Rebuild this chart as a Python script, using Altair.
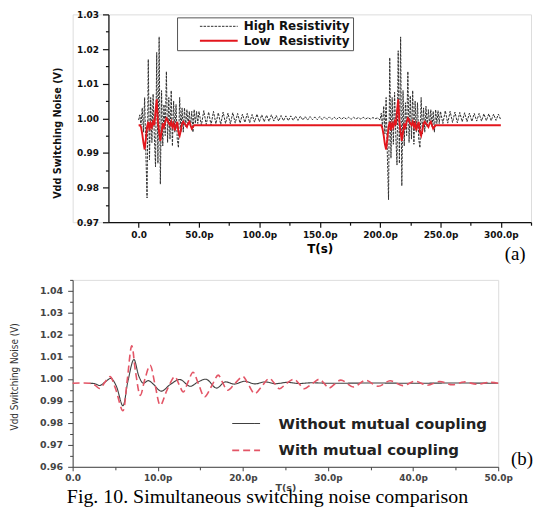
import altair as alt
import pandas as pd

# ---------------- panel (a) data ----------------
HR = "High Resistivity"
LR = "Low\u00a0\u00a0Resistivity"

# High resistivity, t = 0..50 p (1 p steps)
hr_b1 = [0.9995, 1.0010, 0.9980, 1.0030, 0.9960, 1.0060, 0.9900, 0.9770, 1.0170, 0.9880,
         1.0060, 0.9930, 1.0070, 0.9950, 0.9860, 1.0190, 0.9870, 1.0235, 0.9810, 1.0080,
         0.9920, 1.0040, 0.9950, 1.0135, 0.9930, 1.0060, 0.9940, 1.0080, 0.9920, 1.0050,
         0.9960, 1.0040, 0.9940, 0.9915, 1.0060, 0.9960, 1.0030, 0.9960, 1.0030, 0.9975,
         1.0025, 0.9980, 1.0020, 0.9975, 1.0020, 0.9960, 1.0025, 0.9985, 1.0020, 0.9985,
         1.0020]
# t = 52..198 p (2 p steps)
hr_q1 = [0.9980, 1.0022, 0.9982, 1.0018, 0.9980, 1.0020, 0.9984, 1.0016, 0.9982, 1.0018,
         0.9985, 1.0015, 0.9984, 1.0016, 0.9986,
         1.0014, 0.9986, 1.0012, 0.9988, 1.0014, 0.9987, 1.0011, 0.9989, 1.0012, 0.9990,
         1.0010, 0.9990, 1.0009, 0.9991, 1.0010, 0.9992, 1.0008, 0.9992, 1.0008, 0.9993,
         1.0007, 0.9993, 1.0007, 0.9994, 1.0006, 0.9994, 1.0006, 0.9995, 1.0005, 0.9995,
         1.0005, 0.9996, 1.0004, 0.9996, 1.0005, 0.9996, 1.0004, 0.9997, 1.0004, 0.9997,
         1.0003, 0.9997, 1.0004, 0.9997, 1.0003, 0.9998, 1.0003, 0.9997, 1.0003, 0.9998,
         1.0002, 0.9998, 1.0003, 0.9998, 1.0002, 0.9998, 1.0002, 0.9999, 1.0001]
# t = 200..250 p (1 p steps)
hr_b2 = [0.9995, 1.0015, 0.9975, 1.0035, 0.9955, 1.0060, 0.9895, 0.9765, 1.0175, 0.9885,
         1.0060, 0.9925, 1.0075, 0.9950, 0.9865, 1.0195, 0.9870, 1.0235, 0.9805, 1.0080,
         0.9920, 1.0045, 0.9950, 1.0135, 0.9930, 1.0065, 0.9940, 1.0080, 0.9925, 1.0050,
         0.9960, 1.0045, 0.9940, 0.9915, 1.0060, 0.9955, 1.0030, 0.9960, 1.0035, 0.9975,
         1.0025, 0.9980, 1.0025, 0.9975, 1.0020, 0.9960, 1.0025, 0.9985, 1.0022, 0.9985,
         1.0020]
# t = 252..300 p (2 p steps)
hr_q2 = [0.9985, 1.0022, 0.9986, 1.0020, 0.9988, 1.0018, 0.9987, 1.0017, 0.9990, 1.0016,
         0.9990, 1.0015, 0.9991, 1.0014, 0.9992, 1.0014, 0.9992, 1.0013, 0.9993, 1.0013,
         0.9993, 1.0012, 0.9994, 1.0012, 0.9995]

# Low resistivity, t = 0..46 p and 200..246 p (1 p steps), then flat to 300 p
lr_b1 = [0.9980, 0.9980, 0.9975, 0.9955, 0.9930, 0.9910, 0.9940, 0.9975, 0.9990, 0.9965,
         0.9985, 0.9975, 0.9990, 0.9980, 1.0020, 1.0055, 0.9990, 0.9960, 0.9935, 0.9960,
         0.9985, 0.9975, 0.9990, 1.0000, 0.9995, 0.9985, 0.9980, 0.9990, 0.9975, 0.9985,
         0.9965, 0.9980, 0.9990, 0.9960, 0.9950, 0.9965, 0.9985, 0.9990, 0.9985, 0.9980,
         0.9975, 0.9985, 0.9990, 0.9980, 0.9970, 0.9975, 0.9980]
lr_b2 = [0.9980, 0.9980, 0.9970, 0.9950, 0.9925, 0.9910, 0.9940, 0.9975, 0.9990, 0.9965,
         0.9985, 0.9975, 0.9990, 0.9980, 1.0020, 1.0055, 0.9990, 0.9960, 0.9935, 0.9960,
         0.9985, 0.9975, 0.9990, 1.0000, 0.9995, 0.9985, 0.9980, 0.9990, 0.9975, 0.9985,
         0.9965, 0.9980, 0.9990, 0.9960, 0.9950, 0.9965, 0.9985, 0.9990, 0.9985, 0.9980,
         0.9975, 0.9985, 0.9990, 0.9980, 0.9970, 0.9975, 0.9980]
lr_end = [0.9980]

hr_t = list(range(0, 51)) + list(range(52, 200, 2)) + list(range(200, 251)) + list(range(252, 301, 2))
hr_v = hr_b1 + hr_q1 + hr_b2 + hr_q2
lr_t = list(range(0, 47)) + list(range(200, 247)) + [300]
lr_v = lr_b1 + lr_b2 + lr_end

# ---------------- panel (b) data ----------------
NM = "Without mutual coupling"
WM = "With mutual coupling"
nm_t = [2.0, 2.6, 3.2, 3.8, 4.5, 5.1, 5.9, 6.5, 7.2, 7.8, 8.3, 8.9, 9.5, 10.4, 11.5, 12.6,
        13.8, 14.7, 15.7, 16.9, 17.9, 19.0, 20.2, 21.4, 22.6, 23.8, 25.2, 26.6, 28.0, 30.0,
        35.0, 40.0, 45.0, 50.0]
nm_v = [0.9980, 0.9978, 0.9970, 0.9985, 1.0002, 0.9970, 0.9878, 0.9990, 1.0088, 1.0010,
        0.9980, 0.9992, 0.9975, 0.9944, 0.9975, 0.9997, 0.9966, 0.9985, 0.9998, 0.9958,
        0.9986, 0.9976, 0.9989, 0.9977, 0.9986, 0.9978, 0.9984, 0.9979, 0.9982, 0.9980,
        0.9981, 0.9980, 0.9981, 0.9980]
wm_t = [0, 2.0, 2.6, 3.2, 3.8, 4.4, 5.0, 5.9, 6.4, 6.95, 7.4, 7.95, 8.5, 9.1, 9.7, 10.3,
        11.1, 12.0, 12.5, 13.0, 13.6, 14.15, 14.8, 15.5, 16.3, 17.1, 17.6, 18.2, 19.1, 20.0,
        20.7, 21.4, 22.2, 23.1, 23.7, 24.3, 25.1, 26.0, 26.6, 27.2, 28.1, 29.0, 29.6, 30.1,
        31.5, 33.0, 34.4, 35.9, 37.3, 38.8, 40.2, 41.7, 43.1, 44.6, 46.0, 47.5, 48.9, 50.0]
wm_v = [0.9980, 0.9980, 0.9972, 0.9956, 0.9985, 1.0010, 0.9960, 0.9855, 0.9990, 1.0150,
        1.0030, 0.9925, 1.0000, 1.0062, 0.9970, 0.9880, 0.9950, 1.0010, 0.9975, 0.9940,
        0.9990, 1.0030, 0.9975, 0.9918, 0.9965, 1.0017, 0.9985, 0.9948, 0.9980, 1.0010,
        0.9970, 0.9933, 0.9965, 1.0002, 0.9980, 0.9955, 0.9978, 0.9998, 0.9978, 0.9955,
        0.9977, 0.9998, 0.9977, 0.9958, 0.9994, 0.9963, 0.9993, 0.9966, 0.9991, 0.9969,
        0.9989, 0.9971, 0.9988, 0.9973, 0.9986, 0.9975, 0.9984, 0.9980]

# tick values
top_x_ticks = list(range(0, 326, 25))
top_y_ticks = [round(0.97 + 0.005 * i, 3) for i in range(13)]
bot_x_ticks = list(range(0, 51, 5))
bot_y_ticks = [round(0.96 + 0.005 * i, 3) for i in range(18)]

caption_text = ["Fig. 10. Simultaneous switching noise comparison"]
tag_a = ["(a)"]
tag_b = ["(b)"]

# ---------------- build tables ----------------
top_df = pd.DataFrame({
    "t": hr_t + lr_t,
    "v": hr_v + lr_v,
    "series": [HR] * len(hr_t) + [LR] * len(lr_t),
})
bot_df = pd.DataFrame({
    "t": nm_t + wm_t,
    "v": nm_v + wm_v,
    "series": [NM] * len(nm_t) + [WM] * len(wm_t),
})

BOLD = "DejaVu Sans"
NARROW = "Liberation Sans Narrow, DejaVu Sans Condensed, Liberation Sans"
SERIF = "Liberation Serif, Times New Roman, serif"

major_x_top = "datum.value % 50 === 0"
minor_y = "abs(datum.value*100 - round(datum.value*100)) < 0.01"

top_x_axis = alt.Axis(
    values=top_x_ticks,
    labelExpr="datum.value % 50 === 0 ? (datum.value === 0 ? '0.0' : format(datum.value, '.1f') + 'p') : ''",
    tickSize={"condition": {"test": major_x_top, "value": 5}, "value": 3},
    title="T(s)", titleFont=BOLD, titleFontWeight="bold", titleFontSize=12, titlePadding=4,
    labelFont=BOLD, labelFontWeight="bold", labelFontSize=9, labelColor="#111", labelPadding=3,
    labelFlush=False, labelOverlap=False, grid=False,
    domainColor="#111", domainWidth=1.3, tickColor="#111", tickWidth=1.2,
)
top_y_axis = alt.Axis(
    values=top_y_ticks,
    labelExpr=minor_y + " ? format(datum.value, '.2f') : ''",
    tickSize={"condition": {"test": minor_y, "value": 6}, "value": 3},
    offset=-36,
    title="Vdd Switching Noise (V)", titleFont=NARROW, titleFontWeight="bold", titleFontSize=10.8,
    titleColor="#111", titleX=-51, titleY=119, titleBaseline="middle",
    labelFont=BOLD, labelFontWeight="bold", labelFontSize=9, labelColor="#111", labelPadding=4,
    labelOverlap=False, grid=False,
    domainColor="#111", domainWidth=1.3, tickColor="#111", tickWidth=1.2,
)

top_leg = alt.Legend(
    title=None, orient="none", legendX=105, legendY=3,
    symbolType="M2.8,0H10.4", symbolSize=100, symbolStrokeWidth=1.6,
    labelFont=BOLD, labelFontWeight="bold", labelFontSize=12, labelColor="#111",
    labelOffset=52, padding=3, rowPadding=2.5, strokeColor="#555", fillColor="white",
    labelLimit=0,
)

top_lines = alt.Chart(top_df).mark_line().encode(
    x=alt.X("t:Q", scale=alt.Scale(domain=[-25, 325], range=[36, 461], nice=False, zero=False), axis=top_x_axis),
    y=alt.Y("v:Q", scale=alt.Scale(domain=[0.97, 1.03], nice=False, zero=False), axis=top_y_axis),
    color=alt.Color("series:N", scale=alt.Scale(domain=[HR, LR], range=["#2e2e2e", "#e3161d"]), legend=top_leg),
    strokeDash=alt.StrokeDash("series:N", scale=alt.Scale(domain=[HR, LR], range=[[2.5, 1.2], [1, 0]]), legend=top_leg),
    strokeWidth=alt.StrokeWidth("series:N", scale=alt.Scale(domain=[HR, LR], range=[1.0, 1.9]), legend=None),
)

tag_a_chart = alt.Chart(pd.DataFrame({"t": tag_a})).mark_text(
    font=SERIF, fontSize=19, color="black", align="center", baseline="middle"
).encode(text="t:N", x=alt.value(445), y=alt.value(241))

top = alt.layer(top_lines, tag_a_chart).properties(width=461, height=209)

# ---------------- panel (b) ----------------
bot_x_axis = alt.Axis(
    values=bot_x_ticks,
    labelExpr="datum.value % 10 === 0 ? (datum.value === 0 ? '0.0' : format(datum.value, '.1f') + 'p') : ''",
    tickSize={"condition": {"test": "datum.value % 10 === 0", "value": 4}, "value": 3},
    title="T(s)", titleFont=BOLD, titleFontWeight="bold", titleFontSize=9.5, titleColor="#444",
    titlePadding=0,
    labelFont=BOLD, labelFontWeight="bold", labelFontSize=9, labelColor="#444", labelPadding=3,
    labelFlush=False, labelOverlap=False, grid=False,
    domainColor="#444", domainWidth=1, tickColor="#444",
)
bot_y_axis = alt.Axis(
    values=bot_y_ticks,
    labelExpr=minor_y + " ? format(datum.value, '.2f') : ''",
    tickSize={"condition": {"test": minor_y, "value": 5}, "value": 3},
    title="Vdd Switching Noise (V)", titleFont=NARROW, titleFontWeight="normal", titleFontSize=10,
    titleColor="#333", titleX=-58, titleY=97, titleBaseline="middle",
    labelFont=BOLD, labelFontWeight="bold", labelFontSize=9.5, labelColor="#444", labelPadding=5,
    labelOverlap=False, grid=False,
    domainColor="#444", domainWidth=1, tickColor="#444",
)
bot_leg = alt.Legend(
    title=None, orient="none", legendX=153, legendY=137,
    symbolType="M0,0H5.6", symbolSize=100, symbolStrokeWidth=1.5,
    labelFont=BOLD, labelFontWeight="bold", labelFontSize=15, labelColor="#222",
    labelOffset=39, padding=0, rowPadding=11, labelLimit=0,
)

bot_lines = alt.Chart(bot_df).mark_line(interpolate="catmull-rom").encode(
    x=alt.X("t:Q", scale=alt.Scale(domain=[0, 50], nice=False, zero=False), axis=bot_x_axis),
    y=alt.Y("v:Q", scale=alt.Scale(domain=[0.96, 1.045], nice=False, zero=False), axis=bot_y_axis),
    color=alt.Color("series:N", scale=alt.Scale(domain=[NM, WM], range=["#404040", "#e35566"]), legend=bot_leg),
    strokeDash=alt.StrokeDash("series:N", scale=alt.Scale(domain=[NM, WM], range=[[1, 0], [7, 4]]), legend=bot_leg),
    strokeWidth=alt.StrokeWidth("series:N", scale=alt.Scale(domain=[NM, WM], range=[1.1, 1.6]), legend=None),
)

caption = alt.Chart(pd.DataFrame({"t": caption_text})).mark_text(
    font=SERIF, fontSize=20, color="black", align="center", baseline="middle"
).encode(text="t:N", x=alt.value(196), y=alt.value(218))

tag_b_chart = alt.Chart(pd.DataFrame({"t": tag_b})).mark_text(
    font=SERIF, fontSize=19, color="black", align="center", baseline="middle"
).encode(text="t:N", x=alt.value(452), y=alt.value(180))

bottom = alt.layer(bot_lines, caption, tag_b_chart).properties(width=428, height=188)

chart = alt.vconcat(top, bottom, spacing=58, bounds="flush").resolve_scale(
    color="independent", strokeDash="independent", strokeWidth="independent"
).resolve_legend(
    color="independent", strokeDash="independent", strokeWidth="independent"
).properties(
    padding={"left": 1, "top": 0, "right": 0, "bottom": 0}
).configure_view(stroke=None).configure(background="white")

chart.save("out.html", embed_options={"renderer": "svg", "actions": False})
